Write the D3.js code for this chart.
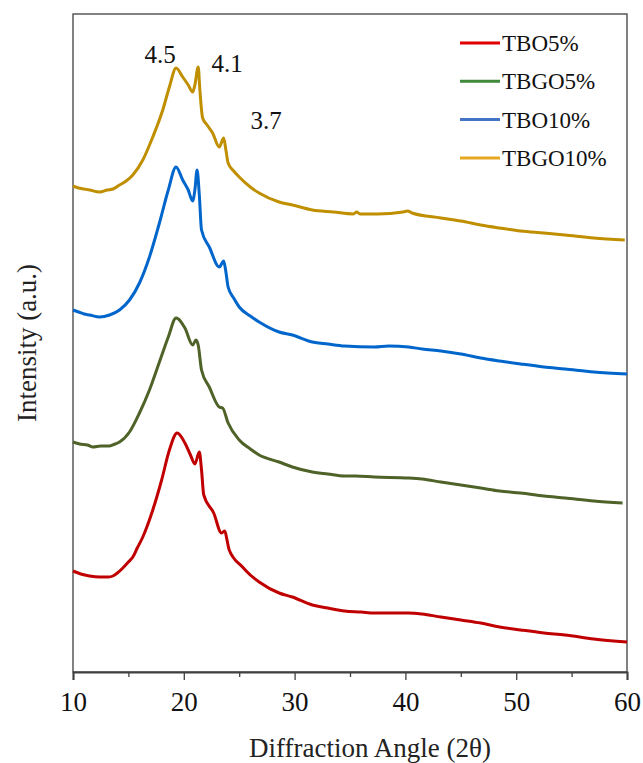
<!DOCTYPE html>
<html><head><meta charset="utf-8">
<script src="https://cdn.jsdelivr.net/npm/d3@7"></script>
<style>
html,body{margin:0;padding:0;background:#fff;}
svg text{font-family:"Liberation Serif","Times New Roman","DejaVu Serif",serif;}
</style>
</head><body>
<svg id="chart" width="643" height="763"></svg>
<script>
// 2θ angles and intensities (a.u.)
const tbo5_x = [10,10.7,11.5,12.4,13.2,13.6,14.0,14.5,15.0,15.4,15.8,16.3,17.2,18.0,18.7,19.4,20.1,20.6,21.0,21.4,21.6,21.8,22.7,23.4,23.7,23.9,24.1,25.3,26.0,26.8,28.6,29.8,31.6,33,34.5,36,37.2,38.5,40.3,41.5,43.2,45,46.8,48.5,50.4,52.5,54.4,57,60];
const tbo5_y = [101,98,96,95,95,96,99,104,110,115,124,135,162,192,222,239,229,217,208,220,202,177,159,139,141,132,122,105,97,90,79,75,67,64,61,60,59,59,59,58,55,52,49,45,42,39,37,33,30];

const tbgo5_x = [10,10.6,11.3,11.8,12.5,13.3,13.8,14.2,15.1,16.0,16.9,17.8,18.6,19.3,20.1,20.8,21.1,21.3,21.6,22.3,23.2,23.5,24.0,25.0,26.0,26.8,28.6,29.8,31.6,33,34.5,35.5,37.2,40.3,41.5,43.2,45,46.8,48.5,50.4,52.5,54.4,57,59.6];
const tbgo5_y = [230,228,227,225,226,226,228,230,240,259,282,310,335,354,344,327,332,327,302,285,265,264,249,232,223,217,210,205,200,198,196,196,195,194,193,190,187,184,181,179,176,174,171,169];

const tbo10_x = [10,10.5,11,11.5,12.4,13.3,14.2,15.1,16.0,16.9,17.8,18.6,19.3,19.9,20.4,20.8,21.0,21.2,21.4,21.6,22.3,23.2,23.6,23.8,24.0,24.5,25.0,26.0,26.8,28.6,29.8,31.6,33,34.5,37.2,38.5,40.3,41.5,43.2,45,46.8,48.5,50.4,52.5,54.4,57,60];
const tbo10_y = [362,360,358,357,355,357,362,372,389,415,449,482,505,492,482,471,482,502,477,442,425,405,411,400,385,374,365,356,350,340,337,330,328,326,325,326,325,323,321,318,314,311,308,305,303,300,298];

const tbgo10_x = [10,10.5,11,11.5,12.4,13.1,13.6,14.2,14.8,15.4,16.3,17.2,18.1,18.7,19.3,19.9,20.4,20.8,21.0,21.3,21.45,21.7,22.1,22.6,23.2,23.6,23.8,24.0,24.5,25.0,26.0,26.8,28.6,29.8,31.6,33.5,35.3,35.6,35.9,37.5,39.8,40.2,40.6,43.2,45,46.8,48.5,50.4,52.5,54.4,57,59.8];
const tbgo10_y = [486,484,483,482,480,482,483,487,491,497,512,535,562,585,604,595,587,580,587,605,582,554,547,539,525,534,522,509,501,495,485,479,470,467,462,460,458,460,458,458,460,461,459,454,451,447,444,441,439,437,434,432];

const seriesNames = ["TBO5%","TBGO5%","TBO10%","TBGO10%"];
const lineColors = ["#C00000","#4F6228","#0066CC","#BF8F00"];
const legendColors = ["#E00000","#3F8A3A","#4472C4","#E6A820"];
const xTicks = [10,20,30,40,50,60];
const peakLabels = ["4.5","4.1","3.7"];

const seriesX = [tbo5_x,tbgo5_x,tbo10_x,tbgo10_x];
const seriesY = [tbo5_y,tbgo5_y,tbo10_y,tbgo10_y];

const svg = d3.select("#chart");
const L = 73, R = 627, T = 14, B = 672;
const x = d3.scaleLinear().domain([10,60]).range([L,R]);
const y = d3.scaleLinear().domain([0,658]).range([B,T]);

// frame
svg.append("rect").attr("x",L).attr("y",T).attr("width",R-L).attr("height",B-T)
  .attr("fill","none").attr("stroke","#404040").attr("stroke-width",1.3);

// bottom axis
const xAxis = d3.axisBottom(x).tickValues(d3.range(10,61,5)).tickSize(8)
  .tickFormat(d => xTicks.includes(d) ? d : "");
const gx = svg.append("g").attr("transform",`translate(0,${B})`).call(xAxis);
gx.attr("font-family",null);
gx.select(".domain").attr("stroke","#404040").attr("stroke-width",2);
gx.selectAll(".tick line").attr("stroke","#404040").attr("stroke-width",1.3);
gx.selectAll(".tick").filter(d => !xTicks.includes(d)).select("line").attr("y2",5);
gx.selectAll(".tick text").attr("font-size",27).attr("fill","#111").attr("dy","1.05em");

svg.append("text").attr("x",(L+R)/2+20).attr("y",757).attr("text-anchor","middle")
  .attr("font-size",27).attr("fill","#222").text("Diffraction Angle (2θ)");
svg.append("text").attr("transform","translate(36,343) rotate(-90)").attr("text-anchor","middle")
  .attr("font-size",27).attr("fill","#222").text("Intensity (a.u.)");

// curves
const line = d3.line().x(d => x(d[0])).y(d => y(d[1])).curve(d3.curveMonotoneX);
seriesX.forEach((xs,i) => {
  const pts = xs.map((v,j) => [v, seriesY[i][j]]);
  svg.append("path").datum(pts).attr("d",line).attr("fill","none")
    .attr("stroke",lineColors[i]).attr("stroke-width",3).attr("stroke-linejoin","round");
});

// peak annotations
const labelPos = [[160,63],[227,72],[266,129]];
peakLabels.forEach((t,i) => {
  svg.append("text").attr("x",labelPos[i][0]).attr("y",labelPos[i][1]).attr("text-anchor","middle")
    .attr("font-size",25).attr("fill","#111").text(t);
});

// legend
seriesNames.forEach((n,i) => {
  const ly = 43 + i*38.3;
  svg.append("line").attr("x1",460).attr("x2",500).attr("y1",ly).attr("y2",ly)
    .attr("stroke",legendColors[i]).attr("stroke-width",3);
  svg.append("text").attr("x",502).attr("y",ly+8).attr("font-size",23)
    .attr("fill","#111").text(n);
});
</script>
</body></html>
